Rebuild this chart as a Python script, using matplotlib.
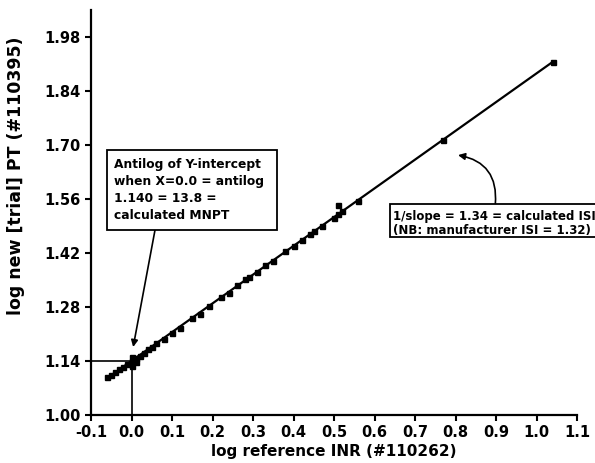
import matplotlib.pyplot as plt
from matplotlib.patches import Rectangle

plt.rcParams['font.family'] = 'DejaVu Sans'
plt.rcParams['font.weight'] = 'bold'

# log reference INR vs log trial PT
log_inr = [-0.06, -0.05, -0.04, -0.03, -0.02, -0.01, 0.00, 0.00, 0.00, 0.01, 0.01,
           0.02, 0.03, 0.04, 0.05, 0.06, 0.08, 0.10, 0.12, 0.15, 0.17, 0.19, 0.22,
           0.24, 0.26, 0.28, 0.29, 0.31, 0.33, 0.35, 0.38, 0.40, 0.42, 0.44, 0.45,
           0.47, 0.50, 0.51, 0.51, 0.52, 0.56, 0.77, 1.04]
log_pt = [1.098, 1.104, 1.112, 1.118, 1.125, 1.133, 1.140, 1.150, 1.128, 1.148, 1.138,
          1.152, 1.160, 1.170, 1.175, 1.186, 1.197, 1.212, 1.226, 1.250, 1.262, 1.283, 1.305,
          1.316, 1.337, 1.352, 1.358, 1.370, 1.388, 1.400, 1.425, 1.438, 1.453, 1.470, 1.478,
          1.490, 1.512, 1.520, 1.545, 1.528, 1.555, 1.714, 1.916]

intercept = 1.140
isi = 1.34
fit_x = [-0.06, 1.04]
fit_y = [intercept + x / isi for x in fit_x]

x_ticks = [-0.1, 0.0, 0.1, 0.2, 0.3, 0.4, 0.5, 0.6, 0.7, 0.8, 0.9, 1.0, 1.1]
y_ticks = [1.00, 1.14, 1.28, 1.42, 1.56, 1.70, 1.84, 1.98]

fig = plt.figure(figsize=(5.95, 4.63), dpi=100)
ax = fig.add_axes([0.153, 0.104, 0.817, 0.874])

ax.plot(fit_x, fit_y, color='black', linewidth=1.6, zorder=2)
ax.plot(log_inr, log_pt, 's', color='black', markersize=3.6, zorder=3)

# intercept guide lines
ax.plot([-0.1, 0.0], [intercept, intercept], color='black', linewidth=1.2)
ax.plot([0.0, 0.0], [1.0, intercept], color='black', linewidth=1.2)

ax.set_xlim(-0.1, 1.1)
ax.set_ylim(1.0, 2.05)
ax.set_xticks(x_ticks)
ax.set_xticklabels(['%.1f' % t for t in x_ticks])
ax.set_yticks(y_ticks)
ax.set_yticklabels(['%.2f' % t for t in y_ticks])
ax.tick_params(labelsize=10.5, width=1.5, length=4)
for side in ['top', 'right']:
    ax.spines[side].set_visible(False)
for side in ['left', 'bottom']:
    ax.spines[side].set_linewidth(1.6)

ax.set_xlabel('log reference INR (#110262)', fontsize=11, fontweight='bold', labelpad=3)
ax.set_ylabel('log new [trial] PT (#110395)', fontsize=12.5, fontweight='bold')
ax.yaxis.set_label_coords(-0.136, 0.59)

# MNPT note
ax.add_patch(Rectangle((-0.0605, 1.480), 0.4195, 0.207, facecolor='white',
                       edgecolor='black', linewidth=1.3, zorder=4))
ax.text(-0.043, 1.583,
        'Antilog of Y-intercept\nwhen X=0.0 = antilog\n1.140 = 13.8 =\ncalculated MNPT',
        fontsize=8.8, fontweight='bold', va='center', ha='left', linespacing=1.4, zorder=5)
ax.annotate('', xy=(0.004, 1.176), xytext=(0.058, 1.480),
            arrowprops=dict(arrowstyle='-|>', color='black', linewidth=1.2, mutation_scale=10,
                            shrinkA=0, shrinkB=0))

# ISI note, box runs off the right edge
ax.add_patch(Rectangle((0.638, 1.4616), 0.6, 0.0854, facecolor='white',
                       edgecolor='black', linewidth=1.3, zorder=4, clip_on=False))
ax.text(0.645, 1.4966, '1/slope = 1.34 = calculated ISI\n(NB: manufacturer ISI = 1.32)',
        fontsize=8.5, fontweight='bold', va='center', ha='left', linespacing=1.05, zorder=5)
ax.annotate('', xy=(0.806, 1.674), xytext=(0.898, 1.547),
            arrowprops=dict(arrowstyle='-|>', color='black', linewidth=1.2, mutation_scale=10,
                            shrinkA=0, shrinkB=0, connectionstyle='arc3,rad=0.45'))

fig.savefig('out.png', dpi=100)
